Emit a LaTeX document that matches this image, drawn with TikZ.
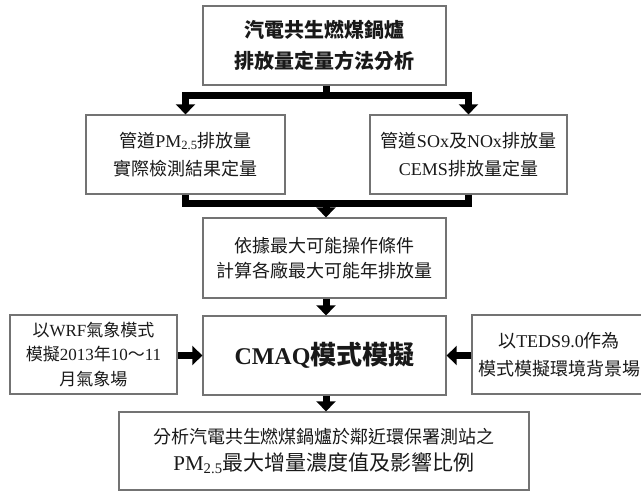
\documentclass[tikz,border=0pt]{standalone}
\usepackage{fontspec}
\setmainfont{Noto Sans CJK TC}
\newfontfamily\lat{Liberation Serif}
\usetikzlibrary{arrows.meta}
\begin{document}
\begin{tikzpicture}[x=1pt,y=-1pt,
  box/.style={draw=black!55, line width=1.3pt, fill=white, align=center, text=black!90, inner sep=0pt},
  fs18/.style={font={\fontsize{18}{28}\selectfont}},
  conn/.style={line width=7pt, line join=miter, draw=black},
  arr/.style={conn, -{Triangle[width=19pt,length=10pt]}}
]
\useasboundingbox (0,0) rectangle (641,492);
\fill[white] (0,0) rectangle (641,492);

\node[box, minimum width=243pt, minimum height=79pt, font={\fontsize{20}{31}\selectfont\bfseries}] (top) at (324.5,45.5) {汽電共生燃煤鍋爐\\排放量定量方法分析};

\node[box, fs18, minimum width=199pt, minimum height=79pt] (pm) at (185.5,154.5) {管道{\lat PM\textsubscript{2.5}}排放量\\實際檢測結果定量};
\node[box, fs18, minimum width=197pt, minimum height=79pt] (sox) at (468.5,154.5) {管道{\lat SOx}及{\lat NOx}排放量\\{\lat CEMS}排放量定量};

\node[box, minimum width=243pt, minimum height=80pt, font={\fontsize{18}{25}\selectfont}] (calc) at (324.5,258) {依據最大可能操作條件\\計算各廠最大可能年排放量};

\node[box, minimum width=243pt, minimum height=79pt, font={\fontsize{26}{30}\selectfont\bfseries}] (cmaq) at (324.5,355.5) {{\lat\bfseries\fontsize{24}{30}\selectfont CMAQ}模式模擬};

\node[box, minimum width=167pt, minimum height=79pt, font={\fontsize{17}{24.5}\selectfont}] (wrf) at (93.5,354.5) {以{\lat WRF}氣象模式\\模擬{\lat 2013}年{\lat 10}～{\lat 11}\\月氣象場};

\node[box, fs18, minimum width=174pt, minimum height=79pt] (teds) at (559,354.5) {以{\lat TEDS9.0}作為\\模式模擬環境背景場};

\node[box, minimum width=410pt, minimum height=78pt, font={\fontsize{18}{27}\selectfont}] (res) at (324,451) {分析汽電共生燃煤鍋爐於鄰近環保署測站之\\{\fontsize{21}{27}\selectfont{\lat PM\textsubscript{2.5}}最大增量濃度值及影響比例}};

% connectors
\coordinate (split) at (326,96);
\coordinate (merge) at (326,204);
\draw[arr] (top.south -| split) -- (split) -| (pm.north);
\draw[arr] (split) -| (sox.north);
\draw[conn] (pm.south) |- (merge);
\draw[conn] (sox.south) |- (merge);
\draw[arr] (merge) -- (calc.north -| merge);
\draw[arr] (calc.south -| merge) -- (cmaq.north -| merge);
\draw[arr] (wrf.east |- cmaq.center) -- (cmaq.west);
\draw[arr] (teds.west |- cmaq.center) -- (cmaq.east);
\draw[arr] (cmaq.south -| merge) -- (res.north -| merge);
\end{tikzpicture}
\end{document}
